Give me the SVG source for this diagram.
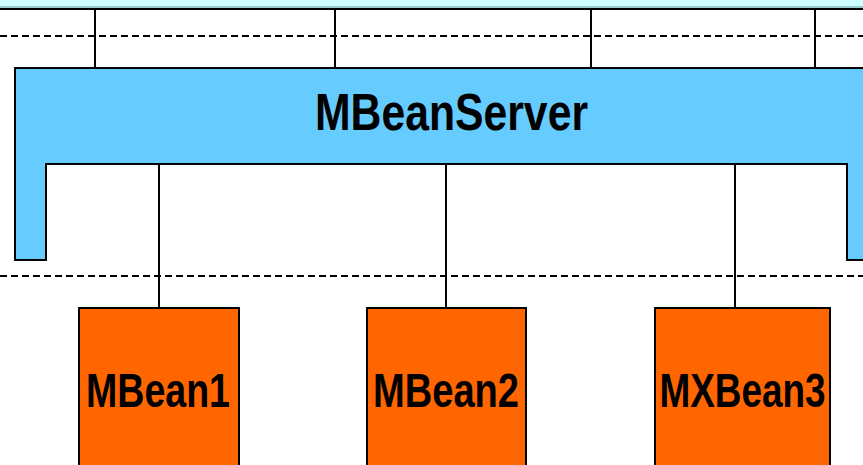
<svg xmlns="http://www.w3.org/2000/svg" width="863" height="465" viewBox="0 0 863 465">
  <style>
    .ln { stroke: #000; stroke-width: 2; fill: none; }
    .dash { stroke: #000; stroke-width: 2; stroke-dasharray: 7 4; fill: none; }
    .server { fill: #66CCFF; stroke: #000; stroke-width: 2; }
    .bean { fill: #FF6600; stroke: #000; stroke-width: 2; }
    .lbl { font-family: "Liberation Sans", Arial, sans-serif; font-weight: bold; fill: #000; text-anchor: middle; }
  </style>

  <!-- top band -->
  <rect x="0" y="0" width="863" height="8" fill="#CCFFFF"/>
  <line x1="0" y1="7" x2="863" y2="7" stroke="#5F9999" stroke-width="1"/>
  <line x1="0" y1="9" x2="863" y2="9" stroke="#000" stroke-width="2"/>

  <!-- layer separators -->
  <line class="dash" x1="0" y1="36" x2="863" y2="36"/>
  <line class="dash" x1="0" y1="276" x2="863" y2="276"/>

  <g id="connectors">
    <line class="ln" x1="95" y1="10" x2="95" y2="68"/>
    <line class="ln" x1="335" y1="10" x2="335" y2="68"/>
    <line class="ln" x1="591" y1="10" x2="591" y2="68"/>
    <line class="ln" x1="815" y1="10" x2="815" y2="68"/>
    <line class="ln" x1="159" y1="164" x2="159" y2="308"/>
    <line class="ln" x1="446" y1="164" x2="446" y2="308"/>
    <line class="ln" x1="735" y1="164" x2="735" y2="308"/>
  </g>

  <g id="mbeanserver">
    <path class="server" d="M870,68 H15 V260 H46 V164 H847 V260 H870"/>
    <text class="lbl" x="451.5" y="130" font-size="52" textLength="273" lengthAdjust="spacingAndGlyphs">MBeanServer</text>
  </g>

  <g id="mbean1">
    <rect class="bean" x="79" y="308" width="160" height="170"/>
    <text class="lbl" x="158" y="407" font-size="48" textLength="144" lengthAdjust="spacingAndGlyphs">MBean1</text>
  </g>

  <g id="mbean2">
    <rect class="bean" x="367" y="308" width="159" height="170"/>
    <text class="lbl" x="446" y="407" font-size="48" textLength="146" lengthAdjust="spacingAndGlyphs">MBean2</text>
  </g>

  <g id="mxbean3">
    <rect class="bean" x="655" y="308" width="175" height="170"/>
    <text class="lbl" x="742.5" y="407" font-size="48" textLength="166" lengthAdjust="spacingAndGlyphs">MXBean3</text>
  </g>
</svg>
